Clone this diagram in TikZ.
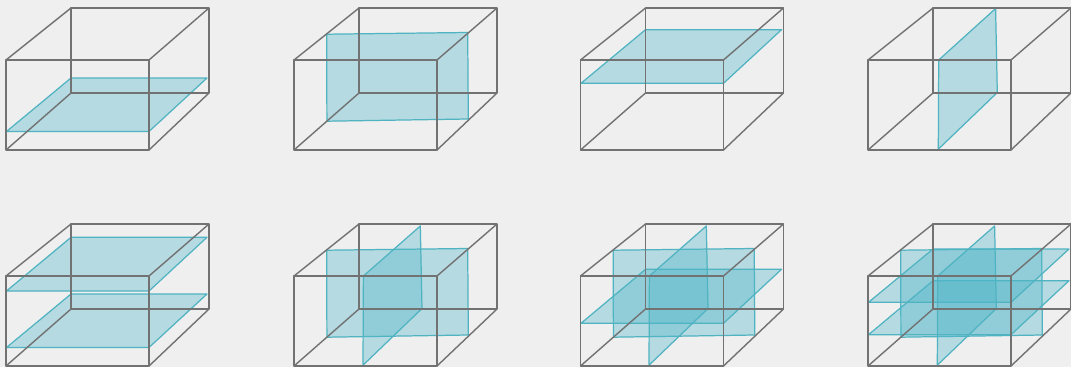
\documentclass[tikz,border=0pt]{standalone}
\usepackage{tikz}
\definecolor{pagegray}{HTML}{EFEFEF}
\definecolor{wiregray}{HTML}{727272}
\definecolor{sheetfill}{HTML}{4FB6C9}
\definecolor{sheetline}{HTML}{4FB3C1}
\tikzset{
    wire/.style={draw=wiregray, line width=1.2pt, line join=round},
    sheet/.style={draw=sheetline, line width=1.05pt, line join=round, fill=sheetfill, fill opacity=0.36}
}
\newcommand{\cuboidwire}{
    \draw[wire] (6,60) -- (149,60) -- (149,150) -- (6,150) -- cycle;
    \draw[wire] (71,8) -- (209,8) -- (209,93) -- (71,93) -- cycle;
    \draw[wire] (6,60) -- (71,8) (149,60) -- (209,8) (6,150) -- (71,93) (149,150) -- (209,93);
}
\newcommand{\flatsheet}[2]{\filldraw[sheet] (6.5,#1) -- (149,#1) -- (207,#2) -- (71,#2) -- cycle;}
\newcommand{\frontsheet}{\filldraw[sheet] (38.7,34.2) -- (179.7,32.5) -- (180.3,119) -- (38.9,121.2) -- cycle;}
\newcommand{\sidesheet}[2]{\filldraw[sheet] (#1,149.2) -- (#1+0.4,60) -- (#1+57.3,#2) -- (#1+59,92.5) -- cycle;}

\begin{document}
\begin{tikzpicture}[x=0.03cm, y=-0.03cm]
    \fill[pagegray] (0,0) rectangle (1071,367);
    \useasboundingbox (0,0) rectangle (1071,367);

    % top row
    \begin{scope}
        \flatsheet{131.5}{78}
        \cuboidwire
    \end{scope}
    \begin{scope}[shift={(288,0)}]
        \frontsheet
        \cuboidwire
    \end{scope}
    \begin{scope}[shift={(574.5,0)}]
        \flatsheet{83.3}{29.7}
        \cuboidwire
    \end{scope}
    \begin{scope}[shift={(862,0)}]
        \sidesheet{76.3}{8.5}
        \cuboidwire
    \end{scope}

    % bottom row
    \begin{scope}[shift={(0,216)}]
        \flatsheet{131.5}{78}
        \flatsheet{75}{21.3}
        \cuboidwire
    \end{scope}
    \begin{scope}[shift={(288,216)}]
        \frontsheet
        \sidesheet{75}{10}
        \cuboidwire
    \end{scope}
    \begin{scope}[shift={(574.5,216)}]
        \frontsheet
        \flatsheet{107.3}{53.3}
        \sidesheet{74.5}{10}
        \cuboidwire
    \end{scope}
    \begin{scope}[shift={(862,216)}]
        \frontsheet
        \flatsheet{118.7}{64.7}
        \flatsheet{86.3}{33}
        \sidesheet{75.3}{10}
        \cuboidwire
    \end{scope}
\end{tikzpicture}
\end{document}
